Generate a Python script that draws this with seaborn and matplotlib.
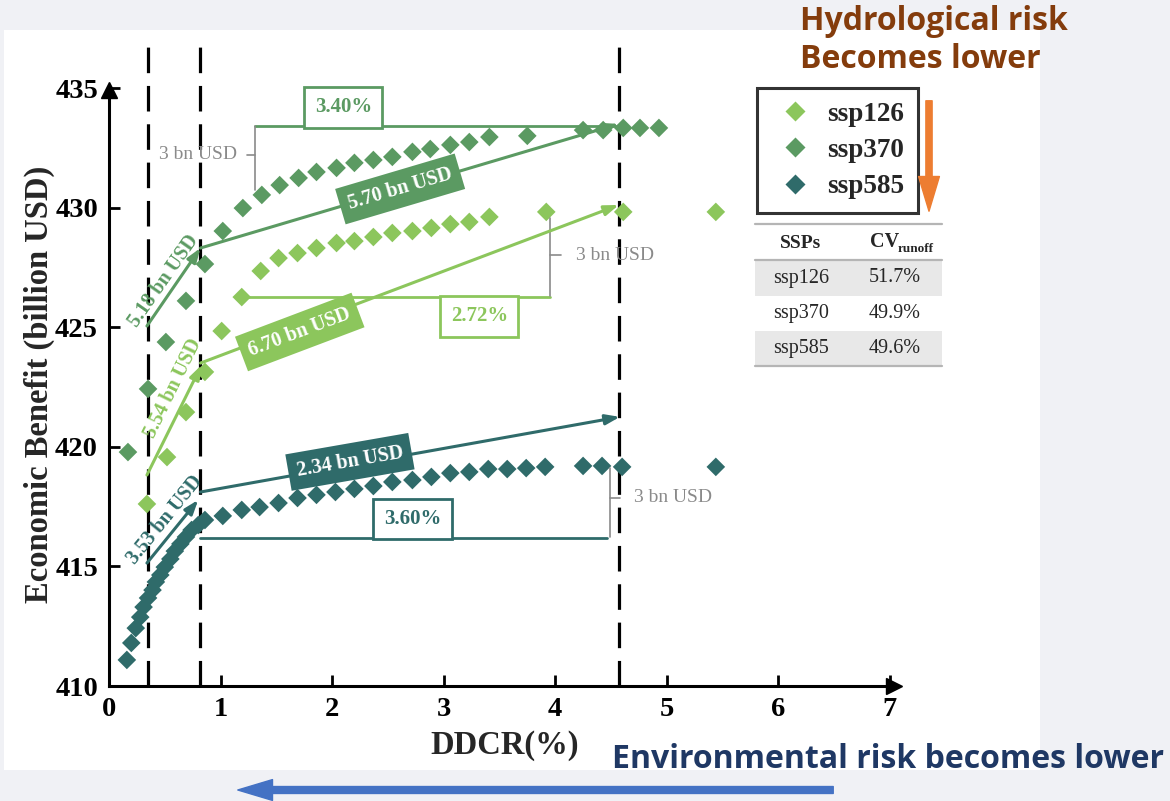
import numpy as np
import pandas as pd
import matplotlib
matplotlib.use("Agg")
import matplotlib.pyplot as plt
import seaborn as sns
from matplotlib.patches import Rectangle, FancyArrowPatch
from matplotlib.lines import Line2D

# ---------------- data ----------------
ssp126_x = [0.34, 0.52, 0.69, 0.86, 1.01, 1.19, 1.36, 1.52, 1.69, 1.86, 2.04, 2.20,
            2.37, 2.54, 2.72, 2.89, 3.06, 3.23, 3.41, 3.92, 4.61, 5.44]
ssp126_y = [417.61, 419.57, 421.45, 423.13, 424.84, 426.26, 427.35, 427.89, 428.10,
            428.31, 428.52, 428.60, 428.77, 428.94, 429.02, 429.15, 429.31, 429.40,
            429.61, 429.82, 429.82, 429.82]

ssp370_x = [0.17, 0.35, 0.51, 0.69, 0.86, 1.02, 1.20, 1.37, 1.53, 1.70, 1.86, 2.04,
            2.20, 2.37, 2.54, 2.72, 2.88, 3.06, 3.23, 3.41, 3.75, 4.25, 4.43, 4.61,
            4.76, 4.93]
ssp370_y = [419.78, 422.42, 424.38, 426.10, 427.64, 429.02, 429.98, 430.53, 430.94,
            431.24, 431.49, 431.66, 431.87, 431.99, 432.12, 432.33, 432.45, 432.62,
            432.74, 432.95, 433.00, 433.24, 433.24, 433.33, 433.33, 433.33]

ssp585_x = [0.16, 0.20, 0.24, 0.28, 0.31, 0.35, 0.39, 0.42, 0.46, 0.50, 0.55, 0.59,
            0.64, 0.69, 0.74, 0.80, 0.86, 1.02, 1.19, 1.35, 1.52, 1.69, 1.86, 2.03,
            2.20, 2.37, 2.54, 2.72, 2.89, 3.06, 3.23, 3.40, 3.57, 3.74, 3.91, 4.25,
            4.42, 4.60, 5.44]
ssp585_y = [411.09, 411.80, 412.42, 412.88, 413.30, 413.68, 414.01, 414.35, 414.64,
            414.97, 415.31, 415.64, 415.94, 416.23, 416.52, 416.73, 416.94, 417.11,
            417.36, 417.48, 417.65, 417.86, 417.99, 418.11, 418.24, 418.36, 418.53,
            418.61, 418.74, 418.90, 418.95, 419.07, 419.07, 419.11, 419.16, 419.20,
            419.20, 419.16, 419.16]

ssp_names = ["ssp126", "ssp370", "ssp585"]
cv_runoff = ["51.7%", "49.9%", "49.6%"]
x_ticks = [0, 1, 2, 3, 4, 5, 6, 7]
y_ticks = [410, 415, 420, 425, 430, 435]
threshold_x = [0.35, 0.82, 4.57]

colors = {"ssp126": "#8cc65c", "ssp370": "#5b9a62", "ssp585": "#2f6b6a"}

df = pd.concat([
    pd.DataFrame({"DDCR": ssp126_x, "EB": ssp126_y, "SSP": "ssp126"}),
    pd.DataFrame({"DDCR": ssp370_x, "EB": ssp370_y, "SSP": "ssp370"}),
    pd.DataFrame({"DDCR": ssp585_x, "EB": ssp585_y, "SSP": "ssp585"}),
])

# ---------------- figure ----------------
sns.set_theme(style="white")
plt.rcParams['font.family'] = ['Liberation Serif', 'DejaVu Serif']
SERIF = 'Liberation Serif'
SANS = 'Open Sans'

W, H = 1170, 801
fig = plt.figure(figsize=(W / 100, H / 100), dpi=100)
fig.patch.set_facecolor('#f0f1f5')
fx = lambda px: px / W
fy = lambda py: 1 - py / H

bg = Rectangle((fx(4), fy(770)), (1040 - 4) / W, (770 - 30) / H, transform=fig.transFigure,
               facecolor='white', edgecolor='none', zorder=-10)
fig.add_artist(bg)

ax_top = 35.4
ax = fig.add_axes([fx(109), fy(686), (901 - 109) / W, (686 - ax_top) / H])
ax.set_facecolor('none')

sns.scatterplot(data=df, x="DDCR", y="EB", hue="SSP", palette=colors, marker="D",
                s=90, edgecolor="none", ax=ax, zorder=3, legend=True)

ax.set_xlim(0, 7.1)
ax.set_ylim(410, 410 + (686 - ax_top) / 23.92)
ax.set_xticks(x_ticks)
ax.set_yticks(y_ticks)
ax.set_xticklabels([str(t) for t in x_ticks], fontweight='bold', fontsize=20.5, family=SERIF)
ax.set_yticklabels([str(t) for t in y_ticks], fontweight='bold', fontsize=20.5, family=SERIF)
ax.tick_params(axis='both', direction='in', length=8, width=2, pad=8, colors='black',
               left=True, bottom=True)

for s in ['top', 'right']:
    ax.spines[s].set_visible(False)
for s in ['left', 'bottom']:
    ax.spines[s].set_linewidth(2.2)
    ax.spines[s].set_color('black')
ax.spines['left'].set_bounds(410, 434.9)
ax.spines['bottom'].set_bounds(0, 7.04)
ax.plot([0], [434.9], marker='^', color='black', ms=11, clip_on=False, zorder=5)
ax.plot([7.04], [410], marker='>', color='black', ms=11, clip_on=False, zorder=5)

ax.set_xlabel("DDCR(%)", fontsize=23.5, fontweight='bold', family=SERIF, labelpad=6)
ax.set_ylabel("Economic Benefit (billion USD)", fontsize=23.5, fontweight='bold', family=SERIF)
ax.yaxis.set_label_coords(-0.068, 0.463)

for xv in threshold_x:
    ax.axvline(xv, ymin=0, ymax=0.993, color='black', lw=2.3, linestyle=(0, (8, 4)), zorder=2)

# ---------------- annotations ----------------
def arrow(p0, p1, c):
    ax.annotate("", xy=p1, xytext=p0,
                arrowprops=dict(arrowstyle='-|>,head_width=0.25,head_length=0.7', color=c, lw=2.2,
                                shrinkA=0, shrinkB=0), zorder=4)

def boxlabel(txt, xy, rot, c):
    ax.text(xy[0], xy[1], txt, rotation=rot, rotation_mode='anchor', ha='center', va='center',
            color='white', fontsize=14.5, fontweight='bold', family=SERIF, zorder=6,
            bbox=dict(boxstyle='square,pad=0.42', fc=c, ec='none'))

def rotlabel(txt, xy, rot, c):
    ax.text(xy[0], xy[1], txt, rotation=rot, rotation_mode='anchor', ha='center', va='center',
            color=c, fontsize=14.5, fontweight='bold', family=SERIF, zorder=6)

def pctbox(txt, xy, c):
    ax.text(xy[0], xy[1], txt, ha='center', va='center', color=c, fontsize=15,
            fontweight='bold', family=SERIF, zorder=6,
            bbox=dict(boxstyle='square,pad=0.5', fc='white', ec=c, lw=2))

GRAY = '#8a8a8a'
def bracket(x, y0, y1, ytick, dx, tx, ha):
    ax.plot([x, x], [y0, y1], color=GRAY, lw=1.2, zorder=3)
    ax.plot([x, x + dx], [ytick, ytick], color=GRAY, lw=1.2, zorder=3)
    ax.text(tx, ytick, "3 bn USD", ha=ha, va='center', color=GRAY, fontsize=14, family=SERIF, zorder=6)

c1, c3, c5 = colors["ssp126"], colors["ssp370"], colors["ssp585"]

# ssp370
arrow((0.34, 425.05), (0.82, 428.31), c3)
rotlabel("5.18 bn USD", (0.49, 426.95), 55, c3)
arrow((0.82, 428.31), (4.57, 433.5), c3)
boxlabel("5.70 bn USD", (2.61, 430.78), 16.5, c3)
ax.plot([1.31, 4.58], [433.41, 433.41], color=c3, lw=2, zorder=2)
pctbox("3.40%", (2.10, 434.2), c3)
bracket(1.31, 430.74, 433.41, 432.2, -0.07, 1.15, 'right')

# ssp126
arrow((0.34, 418.82), (0.83, 423.42), c1)
rotlabel("5.54 bn USD", (0.575, 422.46), 64, c1)
arrow((0.82, 423.5), (4.57, 430.11), c1)
boxlabel("6.70 bn USD", (1.71, 424.8), 20.7, c1)
ax.plot([1.19, 3.95], [426.26, 426.26], color=c1, lw=2, zorder=2)
pctbox("2.72%", (3.32, 425.45), c1)
bracket(3.95, 426.3, 429.57, 428.0, 0.1, 4.19, 'left')

# ssp585
arrow((0.34, 415.14), (0.80, 417.78), c5)
rotlabel("3.53 bn USD", (0.50, 416.94), 51, c5)
arrow((0.82, 418.11), (4.58, 421.25), c5)
boxlabel("2.34 bn USD", (2.16, 419.37), 9.9, c5)
ax.plot([0.82, 4.46], [416.19, 416.19], color=c5, lw=2, zorder=2)
pctbox("3.60%", (2.72, 416.98), c5)
bracket(4.49, 416.23, 419.1, 417.86, 0.09, 4.71, 'left')

# ---------------- legend ----------------
hs = [Line2D([0], [0], marker='D', color='none', markerfacecolor=colors[n], markeredgecolor='none',
             markersize=10.5) for n in ssp_names]
leg = ax.legend(hs, ssp_names, loc='upper left', bbox_to_anchor=(fx(757), fy(88)),
                bbox_transform=fig.transFigure, frameon=True, fancybox=False,
                prop=dict(family=SERIF, weight='bold', size=19.5), handlelength=1.8,
                handletextpad=0.3, labelspacing=0.42, borderpad=0.5, borderaxespad=0)
leg.get_frame().set_edgecolor('black')
leg.get_frame().set_linewidth(2.2)
leg.get_frame().set_facecolor('white')

# ---------------- table ----------------
tx0, tx1 = 755, 942
rows_y = [260, 296, 331, 366]
for i in range(3):
    if i != 1:
        fig.add_artist(Rectangle((fx(tx0), fy(rows_y[i + 1])), (tx1 - tx0) / W,
                                 (rows_y[i + 1] - rows_y[i]) / H, transform=fig.transFigure,
                                 facecolor='#e8e8e8', edgecolor='none', zorder=1))
for yy in [224, 260, 366]:
    fig.add_artist(Line2D([fx(tx0), fx(tx1)], [fy(yy), fy(yy)], transform=fig.transFigure,
                          color='#b5b5b5', lw=1.6, zorder=2))
fig.text(fx(801), fy(243), "SSPs", ha='center', va='center', fontsize=14, fontweight='bold',
         family=SERIF, zorder=3)
fig.text(fx(885), fy(242), "CV", ha='center', va='center', fontsize=14.5, fontweight='bold',
         family=SERIF, zorder=3)
fig.text(fx(898), fy(249), "runoff", ha='left', va='center', fontsize=9.5, fontweight='bold',
         family=SERIF, zorder=3)
for i, (n, cv) in enumerate(zip(ssp_names, cv_runoff)):
    yc = (rows_y[i] + rows_y[i + 1]) / 2
    fig.text(fx(801), fy(yc), n, ha='center', va='center', fontsize=14.5, family=SERIF, zorder=3)
    fig.text(fx(895), fy(yc), cv, ha='center', va='center', fontsize=14.5, family=SERIF, zorder=3)

# ---------------- risk arrows & texts ----------------
fig.add_artist(FancyArrowPatch((fx(929), fy(98)), (fx(929), fy(214)), transform=fig.transFigure,
                               arrowstyle='simple,head_width=1.5,head_length=2.5,tail_width=0.45',
                               mutation_scale=10, color='#ed7d31', zorder=5))
fig.add_artist(FancyArrowPatch((fx(836), fy(790)), (fx(235), fy(790)), transform=fig.transFigure,
                               arrowstyle='simple,head_width=1.5,head_length=2.5,tail_width=0.5',
                               mutation_scale=10, color='#4472c4', zorder=5))
fig.text(fx(800), fy(22), "Hydrological risk", ha='left', va='center', fontsize=23,
         fontweight='bold', family=SANS, color='#843c0c')
fig.text(fx(800), fy(60), "Becomes lower", ha='left', va='center', fontsize=23,
         fontweight='bold', family=SANS, color='#843c0c')
fig.text(fx(612), fy(760), "Environmental risk becomes lower", ha='left', va='center',
         fontsize=23, fontweight='bold', family=SANS, color='#1f3864')

fig.savefig("out.png", dpi=100, facecolor=fig.get_facecolor())
